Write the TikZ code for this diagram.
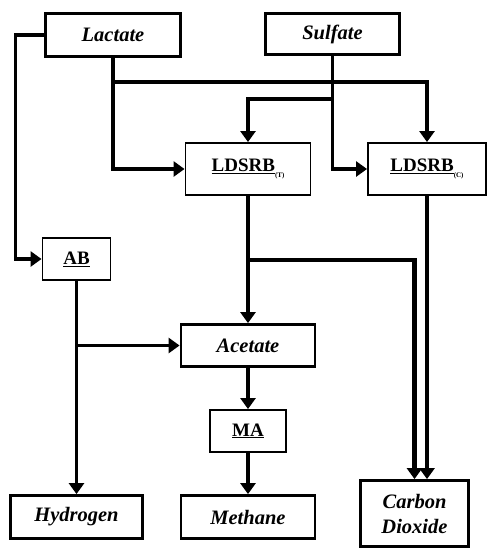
\documentclass[tikz,border=0pt]{standalone}
\usepackage{fontspec}
\setmainfont{Liberation Serif}
\usetikzlibrary{arrows.meta,positioning,calc}

\begin{document}
\begin{tikzpicture}[
x=1pt,y=-1pt,
box/.style={draw,line width=2.8pt,inner sep=0pt,align=center,font=\fontsize{20.5}{25}\selectfont\bfseries\itshape},
org/.style={draw,line width=1.9pt,inner sep=0pt,align=center,font=\fontsize{19}{22}\selectfont\bfseries},
edge/.style={-{Triangle[length=11pt,width=15pt]},line width=3.2pt},
edgeb/.style={edge,line width=4.8pt}
]
\useasboundingbox (0,0) rectangle (488,549);
\node[box,minimum width=135pt,minimum height=43pt] (lac) at (113,35) {Lactate};
\node[box,minimum width=134pt,minimum height=41pt] (sul) at (332.5,34) {Sulfate};
\node[org,minimum width=125pt,minimum height=52pt] (srbt) at (248,169) {\underline{LDSRB}\raisebox{-6pt}{\fontsize{7}{7}\selectfont(T)}};
\node[org,minimum width=118pt,minimum height=52pt] (srbc) at (427,169) {\underline{LDSRB}\raisebox{-6pt}{\fontsize{7}{7}\selectfont(C)}};
\node[org,minimum width=68pt,minimum height=42pt] (ab) at (76.5,259) {\underline{AB}};
\node[box,minimum width=134pt,minimum height=42pt] (ace) at (248,345.5) {Acetate};
\node[org,minimum width=76pt,minimum height=42pt] (ma) at (248,431) {\underline{MA}};
\node[box,minimum width=132pt,minimum height=43pt] (hyd) at (76.5,517) {Hydrogen};
\node[box,minimum width=134pt,minimum height=43pt] (met) at (248,517) {Methane};
\node[box,minimum width=108pt,minimum height=66pt] (co2) at (414.5,513.5) {Carbon\\Dioxide};
% substrates
\draw[edge] (lac.west) -- ++(-29,0) |- (ab.west);
\draw[edge] (lac.south) |- (srbt.west);
\draw[edge] (lac.south) -- ++(0,24) -| (srbc.north);
\draw[edge] (sul.south) -- ++(0,43) -| (srbt.north);
\draw[edge] (sul.south) |- (srbc.west);
% products
\coordinate (fork) at ($(srbt.south)+(0,64)$);
\draw[edge] (srbt.south) -- (ace.north);
\draw[edgeb] (fork) -| (co2.north);
\draw[edgeb] (srbc.south) -- (srbc.south |- co2.north);
\draw[edge] (ab.south) -- (hyd.north);
\draw[edge] (ab.south |- ace.west) -- (ace.west);
\draw[edge] (ace.south) -- (ma.north);
\draw[edge] (ma.south) -- (met.north);
\end{tikzpicture}
\end{document}
